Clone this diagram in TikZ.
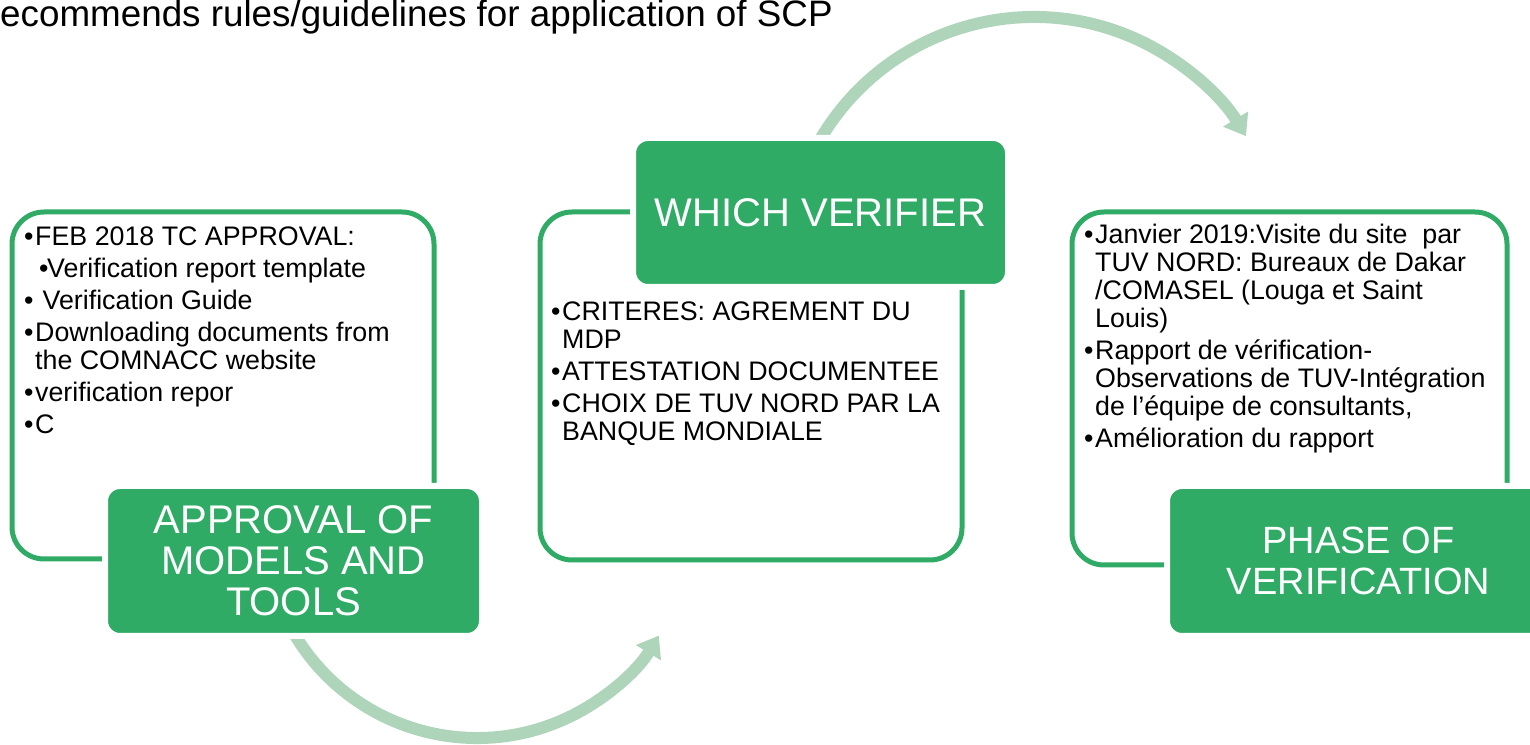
\documentclass[tikz,border=0pt]{standalone}
\usepackage{fontspec}
\setmainfont{Liberation Sans}
\usetikzlibrary{arrows.meta}
\definecolor{boxgreen}{RGB}{47,171,102}
\definecolor{arrowgreen}{RGB}{174,212,186}
\newcommand\bulitem{\makebox[11pt][l]{•}}
\newcommand\subbulitem{\makebox[8pt][l]{•}}
\tikzset{
  outlinebox/.style={draw=boxgreen, line width=5pt, rounded corners=32pt, inner sep=0pt},
  labelbox/.style={fill=boxgreen, draw=white, line width=6pt, rounded corners=15pt,
    text=white, align=center, inner sep=0pt, font=\fontsize{40}{41}\selectfont},
  bodytext/.style={anchor=north west, align=left, inner sep=0pt, text=black,
    font=\fontsize{26.8}{28}\selectfont},
  flowarrow/.style={draw=arrowgreen, line width=12pt,
    -{Triangle[length=20pt, width=28pt]}},
}
\begin{document}
\begin{tikzpicture}[x=1pt, y=1pt]
\useasboundingbox (0,0) rectangle (1530,744);
\clip (0,0) rectangle (1530,744);
\fill[white] (0,0) rectangle (1530,744);

% title
\node[anchor=base west, inner sep=0pt, font=\fontsize{36.8}{40}\selectfont] (title) at (0,717)
  {ecommends rules/guidelines for application of SCP};

% curved arrows
\coordinate (a1s) at (814.3,593.9);
\draw[flowarrow] (a1s) arc[start angle=152.4, end angle=31.3, radius=248];
\coordinate (a2s) at (286.7,124);
\draw[flowarrow] (a2s) arc[start angle=206.4, end angle=328.8, radius=212.5];

% outline boxes
\node[outlinebox, minimum width=422pt, minimum height=347pt] (box1) at (223,358.5) {};
\node[outlinebox, minimum width=422pt, minimum height=348pt] (box2) at (751,358) {};
\node[outlinebox, minimum width=435pt, minimum height=353pt] (box3) at (1289.5,355.5) {};

% label boxes
\node[labelbox, minimum width=377pt, minimum height=150pt] (lab1) at (293.5,183)
  {APPROVAL OF\\MODELS AND\\TOOLS};
\node[labelbox, minimum width=375pt, minimum height=149pt] (lab2) at (820.5,531.5)
  {WHICH VERIFIER};
\node[labelbox, minimum width=383pt, minimum height=150pt,
  font=\fontsize{38}{41}\selectfont] (lab3) at (1358.5,183)
  {PHASE OF\\VERIFICATION};

% body texts
\node[bodytext] (txt1) at (24,519) {%
\rule{0pt}{20pt}\bulitem FEB 2018 TC APPROVAL:\\[4pt]
\hspace*{15pt}\subbulitem Verification report template\\[4pt]
\bulitem\ Verification Guide\\[4pt]
\bulitem Downloading documents from\\
\hspace*{11pt}the COMNACC website\\[4pt]
\bulitem verification repor\\[4pt]
\bulitem C};

\node[bodytext] (txt2) at (551,444) {%
\rule{0pt}{20pt}\bulitem CRITERES: AGREMENT DU\\
\hspace*{11pt}MDP\\[4pt]
\bulitem ATTESTATION DOCUMENTEE\\[4pt]
\bulitem CHOIX DE TUV NORD PAR LA\\
\hspace*{11pt}BANQUE MONDIALE};

\node[bodytext] (txt3) at (1084,521) {%
\rule{0pt}{20pt}\bulitem Janvier 2019:Visite du site\ \ par\\
\hspace*{11pt}TUV NORD: Bureaux de Dakar\\
\hspace*{11pt}/COMASEL (Louga et Saint\\
\hspace*{11pt}Louis)\\[4pt]
\bulitem Rapport de vérification-\\
\hspace*{11pt}Observations de TUV-Intégration\\
\hspace*{11pt}de l’équipe de consultants,\\[4pt]
\bulitem Amélioration du rapport};
\end{tikzpicture}
\end{document}
